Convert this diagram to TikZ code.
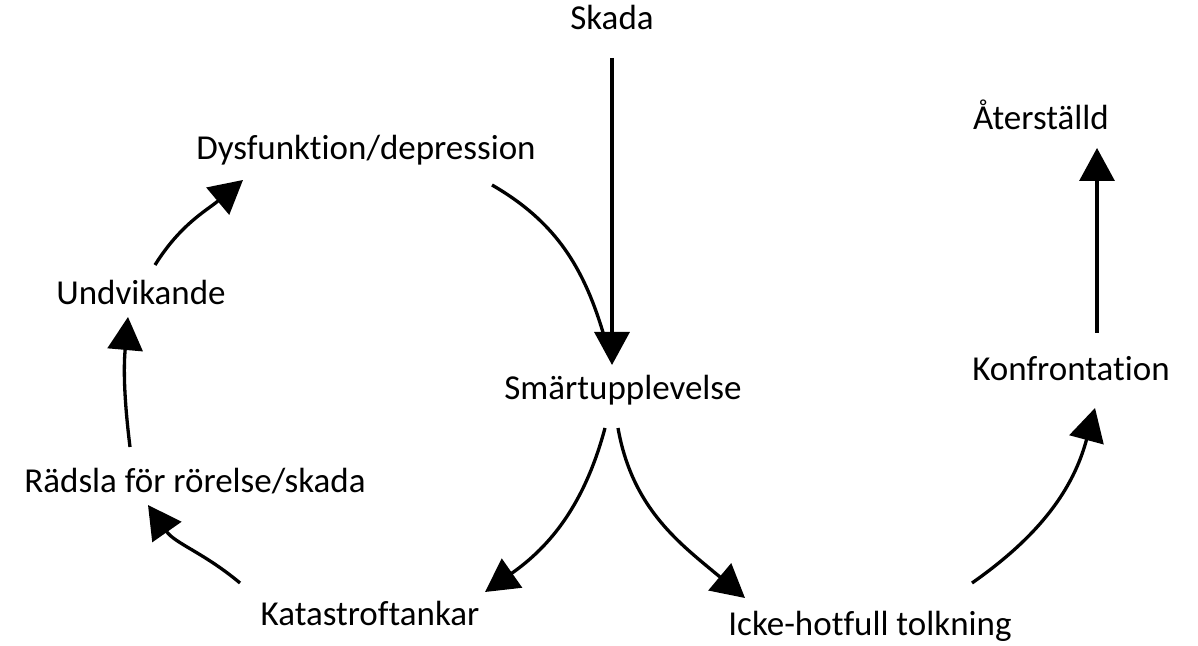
\documentclass[tikz,border=0pt]{standalone}
\usepackage{fontspec}
\setmainfont[Ligatures=NoCommon]{Carlito}
\usetikzlibrary{arrows.meta}
\tikzstyle{stage}=[inner sep=0pt, text height=24pt, text depth=8pt, font=\fontsize{35}{40}\selectfont]
\newcommand{\stage}{\node[stage]}

\begin{document}
\begin{tikzpicture}[x=1pt, y=1pt
    ,every edge/.style={draw, line width=3.3pt,
        -{Triangle[length=33pt,width=35pt]}}
]
\useasboundingbox (0,0) rectangle (1198,645);
\stage (skada)  at (612,623) {Skada};
\stage (dysf)   at (366,493) {Dysfunktion/depression};
\stage (undv)   at (141,348) {Undvikande};
\stage (radsla) at (195,160) {Rädsla för rörelse/skada};
\stage (kata)   at (370,28)  {Katastroftankar};
\stage (smart)  at (623,253) {Smärtupplevelse};
\stage (icke)   at (870,18)  {Icke-hotfull tolkning};
\stage (konfr)  at (1071,272) {Konfrontation};
\stage (aterst) at (1041,523) {Återställd};
\path
([shift={(126,-33)}]dysf.center) edge[-, out=-30, in=105] ([shift={(-15,42)}]smart.center)
([yshift=-36pt]skada.center) edge ([shift={(-11,27)}]smart.center)
([shift={(14,32)}]undv.center) edge[out=58, in=-140] ([shift={(-123,-28)}]dysf.center)
([shift={(-65,38)}]radsla.center) edge[out=97, in=-95] ([shift={(-13,-20)}]undv.center)
([shift={(-130,34)}]kata.center) edge[out=140, in=-55] ([shift={(-47,-20)}]radsla.center)
([shift={(-18,-36)}]smart.center) edge[out=-105, in=35] ([shift={(115,25)}]kata.center)
([shift={(-5,-36)}]smart.center) edge[out=-80, in=140] ([shift={(-125,29)}]icke.center)
([shift={(102,44)}]icke.center) edge[out=35, in=-105] ([shift={(24,-35)}]konfr.center)
([shift={(26,40)}]konfr.center) edge ([shift={(56,-26)}]aterst.center)
;
\end{tikzpicture}
\end{document}
